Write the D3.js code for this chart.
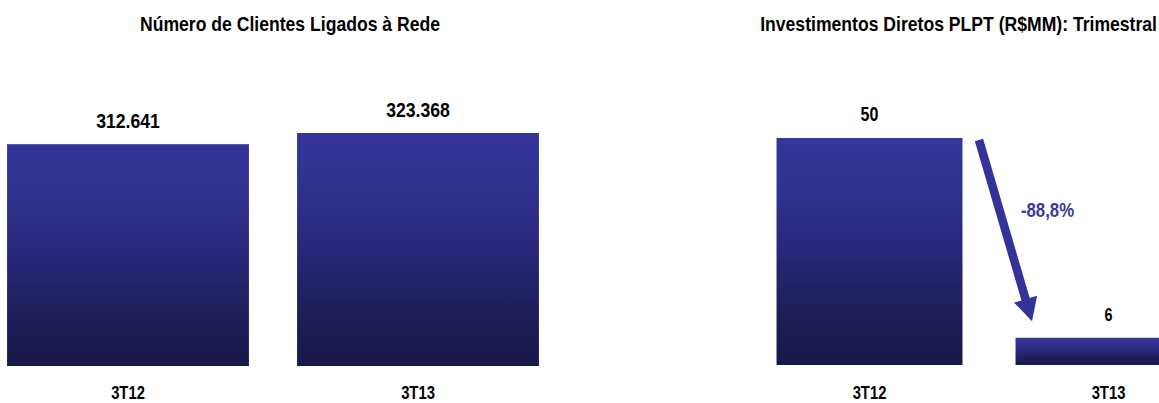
<!DOCTYPE html>
<html>
<head>
<meta charset="utf-8">
<script src="https://cdn.jsdelivr.net/npm/d3@7"></script>
<style>
  html, body { margin: 0; padding: 0; background: #fff; }
  svg { display: block; }
  text { font-family: "Liberation Sans Narrow", "Arial Narrow", "Liberation Sans", Arial, sans-serif; font-weight: bold; }
</style>
</head>
<body>
<svg id="chart" width="1159" height="403"></svg>
<script>
// Customers connected to the grid
const clientCategories = ["3T12", "3T13"];
const clientValues = [312641, 323368];
const clientLabels = ["312.641", "323.368"];
const clientTitle = "Número de Clientes Ligados à Rede";

// Direct investments, quarterly (R$MM)
const investCategories = ["3T12", "3T13"];
const investValues = [50, 6];
const investLabels = ["50", "6"];
const investTitle = "Investimentos Diretos PLPT (R$MM): Trimestral";
const investChange = "-88,8%";

const svg = d3.select("#chart");
const defs = svg.append("defs");

const grad = defs.append("linearGradient")
  .attr("id", "barFill").attr("x1", 0).attr("y1", 0).attr("x2", 0).attr("y2", 1);
[[0, "#35359a"], [0.15, "#333394"], [0.5, "#28277a"], [0.8, "#1d1c55"], [1, "#18184a"]]
  .forEach(([o, c]) => grad.append("stop").attr("offset", o).attr("stop-color", c));

// Condensed bold text: horizontal squeeze around the anchor point
function placeText(sel, x, y, sx) {
  sel.attr("x", 0).attr("y", 0)
    .attr("transform", (d, i) => {
      const xx = typeof x === "function" ? x(d, i) : x;
      const yy = typeof y === "function" ? y(d, i) : y;
      return `translate(${xx},${yy}) scale(${sx},1)`;
    });
}

// ---- Left panel ----
const xL = d3.scaleBand().domain(clientCategories).range([-17, 563]).paddingInner(0.166).paddingOuter(0.083);
const yL = d3.scaleLinear().domain([100000, 323368]).range([366, 133]);

const left = svg.append("g");
left.append("text").attr("text-anchor", "middle")
  .attr("font-size", 20).attr("fill", "#000").text(clientTitle)
  .call(placeText, 290, 31, 0.88);

left.selectAll("rect").data(clientValues).join("rect")
  .attr("x", (d, i) => xL(clientCategories[i]))
  .attr("width", xL.bandwidth())
  .attr("y", d => yL(d))
  .attr("height", d => yL.range()[0] - yL(d))
  .attr("fill", "url(#barFill)");

left.selectAll("text.val").data(clientValues).join("text").attr("class", "val")
  .attr("text-anchor", "middle").attr("font-size", 21).attr("fill", "#000")
  .text((d, i) => clientLabels[i])
  .call(placeText, (d, i) => xL(clientCategories[i]) + xL.bandwidth() / 2, d => yL(d) - 16, 0.84);

left.selectAll("text.cat").data(clientCategories).join("text").attr("class", "cat")
  .attr("text-anchor", "middle").attr("font-size", 18.5).attr("fill", "#000")
  .text(d => d)
  .call(placeText, d => xL(d) + xL.bandwidth() / 2, 399, 0.8);

// ---- Right panel ----
const xR = d3.scaleBand().domain(investCategories).range([750, 1228]).paddingInner(0.222).paddingOuter(0.111);
const yR = d3.scaleLinear().domain([0, 50]).range([365, 138]);

const right = svg.append("g");
right.append("text").attr("text-anchor", "end")
  .attr("font-size", 20).attr("fill", "#000").text(investTitle)
  .call(placeText, 1157, 31, 0.88);

right.selectAll("rect").data(investValues).join("rect")
  .attr("x", (d, i) => xR(investCategories[i]))
  .attr("width", xR.bandwidth())
  .attr("y", d => yR(d))
  .attr("height", d => yR.range()[0] - yR(d))
  .attr("fill", "url(#barFill)");

right.selectAll("text.val").data(investValues).join("text").attr("class", "val")
  .attr("text-anchor", "middle").attr("font-size", (d, i) => i === 0 ? 20 : 18).attr("fill", "#000")
  .text((d, i) => investLabels[i])
  .call(placeText, (d, i) => xR(investCategories[i]) + xR.bandwidth() / 2, d => yR(d) - 17, 0.8);

right.selectAll("text.cat").data(investCategories).join("text").attr("class", "cat")
  .attr("text-anchor", "middle").attr("font-size", 18.5).attr("fill", "#000")
  .text(d => d)
  .call(placeText, d => xR(d) + xR.bandwidth() / 2, 399, 0.8);

// Arrow from the first bar's top down to the second bar
const start = [xR(investCategories[0]) + xR.bandwidth() + 16.5, yR(investValues[0]) + 2];
const tip = [xR(investCategories[1]) + 16.5, yR(investValues[1]) - 16.5];
const dx = tip[0] - start[0], dy = tip[1] - start[1];
const len = Math.hypot(dx, dy);
const ux = dx / len, uy = dy / len, px = -uy, py = ux;
const shaftW = 4.3, headW = 12, headL = 23;
const base = [tip[0] - ux * headL, tip[1] - uy * headL];
const pts = [
  [start[0] + px * shaftW, start[1] + py * shaftW],
  [base[0] + px * shaftW, base[1] + py * shaftW],
  [base[0] + px * headW, base[1] + py * headW],
  tip,
  [base[0] - px * headW, base[1] - py * headW],
  [base[0] - px * shaftW, base[1] - py * shaftW],
  [start[0] - px * shaftW, start[1] - py * shaftW]
];
right.append("path").attr("d", d3.line()(pts) + "Z").attr("fill", "#333399");

right.append("text")
  .attr("text-anchor", "middle").attr("font-size", 19.5).attr("fill", "#3a3a9c")
  .text(investChange)
  .call(placeText, (start[0] + tip[0]) / 2 + 42, 217, 0.86);
</script>
</body>
</html>
